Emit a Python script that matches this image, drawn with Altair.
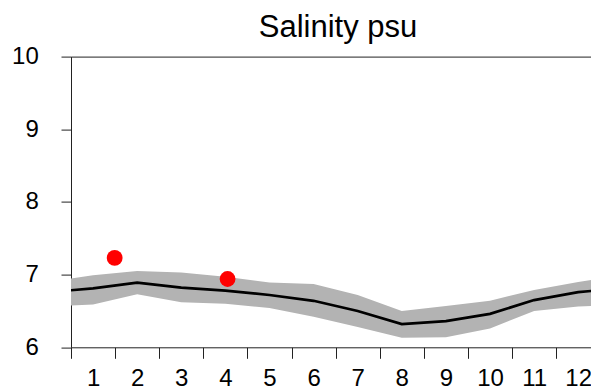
import altair as alt
import pandas as pd

# Monthly climatology (month 0 = previous Dec, month 13 = next Jan, clipped at the plot edges)
months = [0, 1, 2, 3, 4, 5, 6, 7, 8, 9, 10, 11, 12, 13]
mean_sal = [6.76, 6.81, 6.89, 6.82, 6.78, 6.72, 6.64, 6.50, 6.32, 6.36, 6.46, 6.65, 6.76, 6.81]
upper_sal = [6.90, 6.99, 7.05, 7.03, 6.97, 6.89, 6.87, 6.72, 6.50, 6.57, 6.64, 6.79, 6.90, 6.99]
lower_sal = [6.56, 6.59, 6.73, 6.62, 6.60, 6.54, 6.42, 6.28, 6.13, 6.14, 6.26, 6.50, 6.56, 6.59]

# Observations
obs_month = [1.49, 4.05]
obs_sal = [7.23, 6.94]

y_ticks = [6, 7, 8, 9, 10]
x_ticks = [0.5, 1.5, 2.5, 3.5, 4.5, 5.5, 6.5, 7.5, 8.5, 9.5, 10.5, 11.5]

clim = pd.DataFrame({"month": months, "mean": mean_sal, "upper": upper_sal, "lower": lower_sal})
obs = pd.DataFrame({"month": obs_month, "sal": obs_sal})

FONT = "Liberation Sans"
AXC = "#222222"

xscale = alt.Scale(domain=[0.5, 12.29], nice=False, zero=False)
yscale = alt.Scale(domain=[6, 10], nice=False, zero=False)

xaxis = alt.Axis(
    orient="bottom", values=x_ticks, title=None, grid=False, tickSize=11, labelPadding=8,
    labelExpr="format(datum.value + 0.5, 'd')", labelOffset=22.05,
    labelFlush=False, labelOverlap=False, labelFontSize=24, labelFont=FONT,
    labelColor="black", domainColor=AXC, tickColor=AXC,
)
topaxis = alt.Axis(
    orient="top", labels=False, ticks=False, grid=False, domainColor=AXC,
    title="Salinity psu", titleFont=FONT, titleFontSize=31, titleFontWeight="normal",
    titleColor="black", titleX=266.5, titleY=-20, titleAlign="center",
    titleBaseline="alphabetic", titleAngle=0,
)
yaxis = alt.Axis(
    values=y_ticks, format="d", title=None, grid=False, tickSize=10, labelPadding=22.7,
    labelFontSize=24, labelFont=FONT, labelColor="black",
    domainColor=AXC, tickColor=AXC, labelOverlap=False, labelFlush=False,
)

band = alt.Chart(clim).mark_area(color="#B3B3B3", opacity=1, clip=True).encode(
    x=alt.X("month:Q", scale=xscale, axis=xaxis),
    y=alt.Y("upper:Q", scale=yscale, axis=yaxis),
    y2="lower:Q",
)

line = alt.Chart(clim).mark_line(color="black", strokeWidth=2.7, clip=True).encode(
    x=alt.X("month:Q", scale=xscale, axis=None),
    y=alt.Y("mean:Q", scale=yscale, axis=yaxis),
)

pts = alt.Chart(obs).mark_circle(color="#FF0000", size=250, opacity=1).encode(
    x=alt.X("month:Q", scale=xscale, axis=topaxis),
    y=alt.Y("sal:Q", scale=yscale, axis=yaxis),
)

chart = (
    alt.layer(band, line, pts)
    .resolve_axis(x="independent")
    .properties(
        width=520,
        height=290.7,
        autosize=alt.AutoSizeParams(type="none"),
        padding={"left": 63, "top": 48.6, "right": 0, "bottom": 42.7},
    )
    .configure_view(stroke=None)
)

chart.save("out.html", embed_options={"renderer": "svg", "actions": False})
